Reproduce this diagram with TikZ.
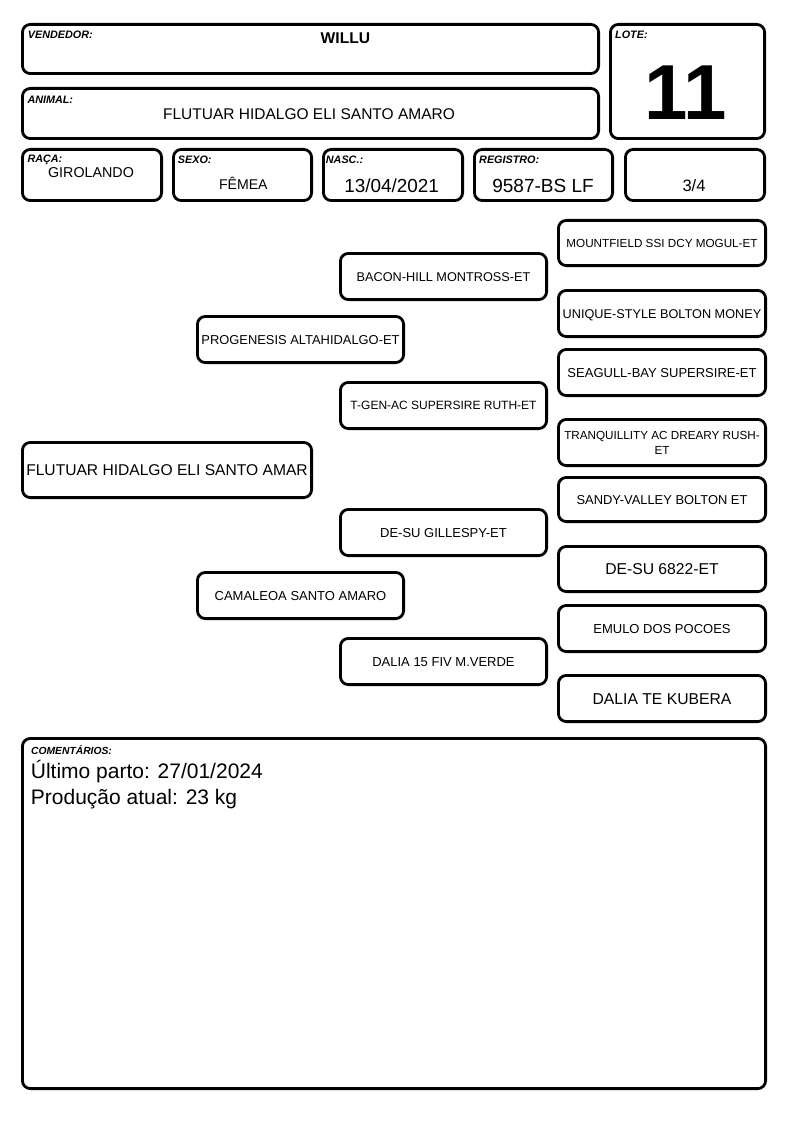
\documentclass[tikz,border=0pt]{standalone}
\usepackage{fontspec}
\setmainfont{Liberation Sans}
\begin{document}
\begin{tikzpicture}[x=1pt,y=-1pt,
  box/.style={draw, line width=2.8pt, rounded corners=8pt, inner sep=0pt, align=center},
  ped/.code={\pgfmathsetlengthmacro\capht{0.716*#1pt}%
    \edef\tmpk{\noexpand\tikzset{box,font=\noexpand\fontsize{#1pt}{#1pt}\noexpand\selectfont,text height=\capht,text depth=0pt}}\tmpk},
  lab/.style={anchor=base west, inner sep=0pt, font=\fontsize{10.8pt}{13pt}\selectfont\bfseries\itshape},
  val/.style={anchor=base, inner sep=0pt, font=\fontsize{#1pt}{#1pt}\selectfont},
]
\useasboundingbox (0,0) rectangle (794,1123);

% header boxes
\node[box, minimum width=576.2pt, minimum height=49.2pt] (vend) at (310.5,49) {};
\node[box, minimum width=154.2pt, minimum height=114.2pt] (lote) at (687.5,81.5) {};
\node[box, minimum width=576.2pt, minimum height=50.2pt] (anim) at (310.5,113.5) {};
\node[box, minimum width=139.2pt, minimum height=51.2pt] (raca) at (92,175) {};
\node[box, minimum width=138.2pt, minimum height=51.2pt] (sexo) at (242.5,175) {};
\node[box, minimum width=139.2pt, minimum height=51.2pt] (nasc) at (393,175) {};
\node[box, minimum width=138.2pt, minimum height=51.2pt] (reg) at (543.5,175) {};
\node[box, minimum width=139.2pt, minimum height=51.2pt] (frac) at (695,175) {};

% header texts
\node[lab] (vendl) at (27.7,39) {VENDEDOR:};
\node[val=15.6, font=\fontsize{15.6pt}{16pt}\selectfont\bfseries] (vendv) at (345.4,43.3) {WILLU};
\node[lab] (lotel) at (615,39) {LOTE:};
\node[val=78, font=\fontsize{78pt}{80pt}\selectfont\bfseries] (lotev) at (686,119.3) {11};
\node[lab] (animl) at (27.3,103.3) {ANIMAL:};
\node[val=15.5] (animv) at (309,119.3) {FLUTUAR HIDALGO ELI SANTO AMARO};
\node[lab] (racal) at (27.3,162.7) {RAÇA:};
\node[val=14.3] (racav) at (91,177.7) {GIROLANDO};
\node[lab] (sexol) at (177.7,164) {SEXO:};
\node[val=14.1] (sexov) at (243.3,189.3) {FÊMEA};
\node[lab] (nascl) at (325.7,164) {NASC.:};
\node[val=18.9] (nascv) at (391.7,192.7) {13/04/2021};
\node[lab] (regl) at (479,164) {REGISTRO:};
\node[val=19] (regv) at (543,192.7) {9587-BS LF};
\node[val=16.5] (fracv) at (694,191.7) {3/4};

% pedigree
\node[ped=15.6, minimum width=289.2pt, minimum height=55.2pt] (p0) at (167,470) {FLUTUAR HIDALGO ELI SANTO AMAR};
\node[ped=12.9, minimum width=206.2pt, minimum height=46.2pt] (s) at (300.5,339.5) {PROGENESIS ALTAHIDALGO-ET};
\node[ped=13, minimum width=206.2pt, minimum height=46.2pt] (d) at (300.5,595.5) {CAMALEOA SANTO AMARO};
\node[ped=12.7, minimum width=206.2pt, minimum height=46.2pt] (ss) at (443.5,276.5) {BACON-HILL MONTROSS-ET};
\node[ped=12, minimum width=206.2pt, minimum height=46.2pt] (sd) at (443.5,405.5) {T-GEN-AC SUPERSIRE RUTH-ET};
\node[ped=13, minimum width=206.2pt, minimum height=46.2pt] (ds) at (443.5,532.5) {DE-SU GILLESPY-ET};
\node[ped=13, minimum width=206.2pt, minimum height=46.2pt] (dd) at (443.5,661.5) {DALIA 15 FIV M.VERDE};

\node[ped=11.7, minimum width=207.2pt, minimum height=45.2pt] (sss) at (662,243) {MOUNTFIELD SSI DCY MOGUL-ET};
\node[ped=12.7, minimum width=207.2pt, minimum height=46.2pt] (ssd) at (662,313.5) {UNIQUE-STYLE BOLTON MONEY};
\node[ped=13, minimum width=207.2pt, minimum height=46.2pt] (sds) at (662,372.5) {SEAGULL-BAY SUPERSIRE-ET};
\node[box, font=\fontsize{11.7pt}{15pt}\selectfont, minimum width=207.2pt, minimum height=46.2pt] (sdd) at (662,442.5) {TRANQUILLITY AC DREARY RUSH-\\ET};
\node[ped=12.9, minimum width=207.2pt, minimum height=44.2pt] (dss) at (662,499.5) {SANDY-VALLEY BOLTON ET};
\node[ped=15.7, minimum width=207.2pt, minimum height=45.2pt] (dsd) at (662,569) {DE-SU 6822-ET};
\node[ped=13, minimum width=207.2pt, minimum height=46.2pt] (dds) at (662,628.5) {EMULO DOS POCOES};
\node[ped=15.7, minimum width=207.2pt, minimum height=46.2pt] (ddd) at (662,698.5) {DALIA TE KUBERA};

% comments
\node[box, minimum width=743.2pt, minimum height=350.2pt] (com) at (394,913.5) {};
\node[lab, font=\fontsize{10.3pt}{13pt}\selectfont\bfseries\itshape] (coml) at (31,754) {COMENTÁRIOS:};
\node[anchor=base west, inner sep=0pt, font=\fontsize{21pt}{25.7pt}\selectfont] (c1) at (30.7,778.3) {Último parto: 27/01/2024};
\node[anchor=base west, inner sep=0pt, font=\fontsize{21pt}{25.7pt}\selectfont] (c2) at (30.7,804) {Produção atual: 23 kg};
\end{tikzpicture}
\end{document}
